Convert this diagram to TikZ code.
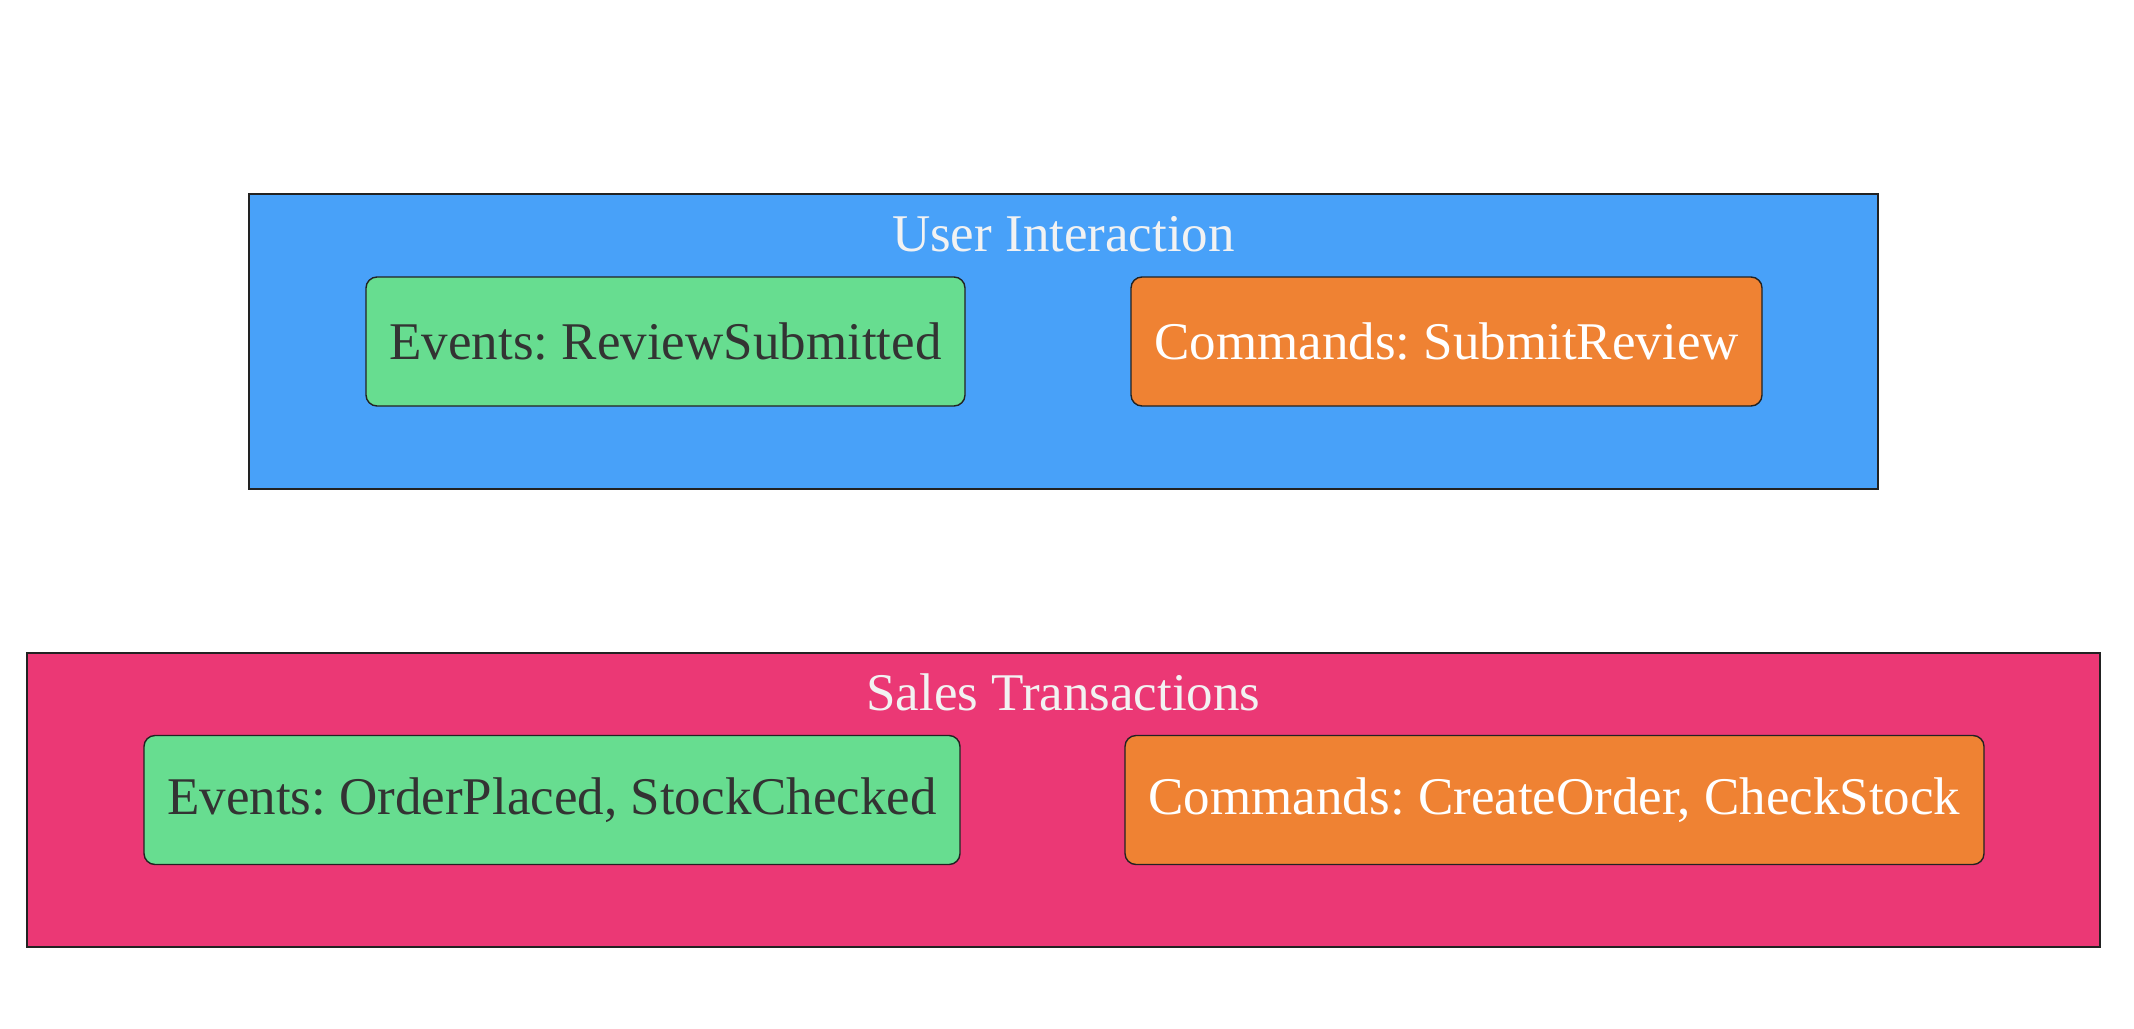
\documentclass[tikz,border=0pt]{standalone}
\usepackage{fontspec}
\setmainfont{Liberation Serif}
\frenchspacing
\definecolor{uiblue}{HTML}{48A1F9}
\definecolor{salespink}{HTML}{EB3875}
\definecolor{evgreen}{HTML}{67DD90}
\definecolor{cmdorange}{HTML}{EF8233}
\definecolor{darktext}{HTML}{333333}
\definecolor{titletext}{HTML}{F2F2F2}
\definecolor{edge}{HTML}{222222}
\begin{document}
\begin{tikzpicture}[x=0.5pt,y=-0.5pt,
  container/.style={rectangle, draw=edge, line width=0.7pt, inner sep=0pt},
  evbox/.style={rectangle, rounded corners=5.5pt, draw=edge, line width=0.7pt, fill=evgreen, text=darktext, inner sep=0pt, minimum height=64.5pt, font=\fontsize{26.5}{30}\selectfont\frenchspacing},
  cmdbox/.style={rectangle, rounded corners=5.5pt, draw=edge, line width=0.7pt, fill=cmdorange, text=white, inner sep=0pt, minimum height=64.5pt, font=\fontsize{26.5}{30}\selectfont\frenchspacing},
  titlelabel/.style={anchor=base, text=titletext, inner sep=0pt, font=\fontsize{26.5}{30}\selectfont}
]
\useasboundingbox[fill=white] (0,0) rectangle (2134,1028);
% User Interaction
\node[container, fill=uiblue, minimum width=814.5pt, minimum height=147.5pt] (ui) at (1063.5,341.5) {};
\node[titlelabel] (uititle) at (1063.5,251) {User Interaction};
\node[evbox, minimum width=299.5pt] (ev1) at (665.5,341.5) {Events: ReviewSubmitted};
\node[cmdbox, minimum width=315.5pt] (cmd1) at (1446.5,341.5) {Commands: SubmitReview};
% Sales Transactions
\node[container, fill=salespink, minimum width=1036.5pt, minimum height=147pt] (sales) at (1063.5,800) {};
\node[titlelabel] (salestitle) at (1063.5,710) {Sales Transactions};
\node[evbox, minimum width=408pt] (ev2) at (552,800) {Events: OrderPlaced, StockChecked};
\node[cmdbox, minimum width=429.5pt] (cmd2) at (1554.5,800) {Commands: CreateOrder, CheckStock};
\end{tikzpicture}
\end{document}
